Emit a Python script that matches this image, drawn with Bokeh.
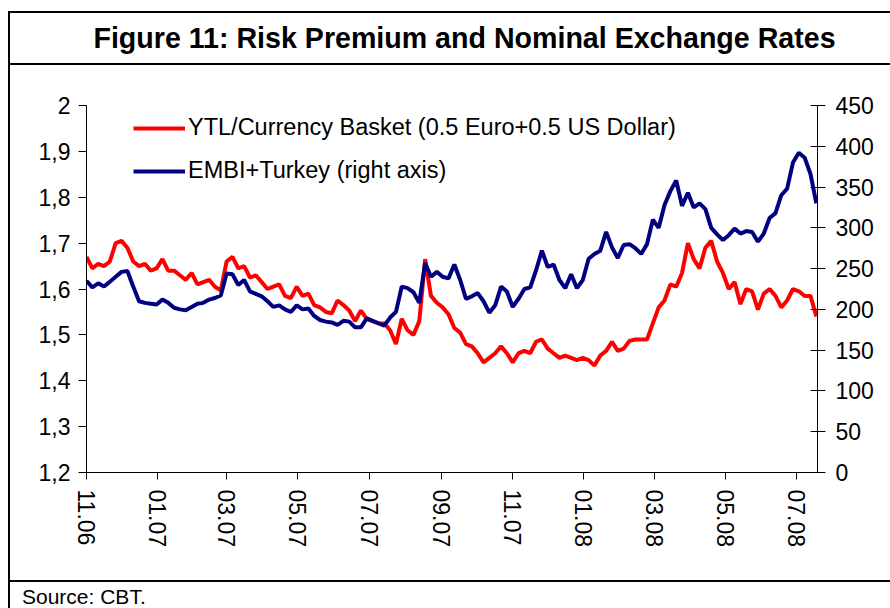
import pandas as pd
from bokeh.plotting import figure
from bokeh.models import (LinearAxis, Range1d, FixedTicker, CustomJSTickFormatter,
                          Legend, LegendItem, Div, ColumnDataSource, Spacer)
from bokeh.layouts import column, row
from bokeh.embed import file_html
from bokeh.resources import INLINE

title_text = "Figure 11: Risk Premium and Nominal Exchange Rates"
source_text = "Source: CBT."
label_ytl = "YTL/Currency Basket (0.5 Euro+0.5 US Dollar)"
label_embi = "EMBI+Turkey (right axis)"

series_start = "2006-11-01"
step_days = 5

ytl_basket = [
    1.67, 1.645, 1.655, 1.65, 1.66, 1.70, 1.705, 1.69, 1.66, 1.65,
    1.655, 1.64, 1.645, 1.665, 1.64, 1.64, 1.63, 1.62, 1.635, 1.61,
    1.615, 1.62, 1.605, 1.597, 1.66, 1.67, 1.645, 1.65, 1.625, 1.63,
    1.615, 1.60, 1.605, 1.61, 1.585, 1.58, 1.605, 1.585, 1.59, 1.565,
    1.56, 1.55, 1.547, 1.575, 1.565, 1.553, 1.53, 1.553, 1.535, 1.53,
    1.525, 1.525, 1.51, 1.48, 1.535, 1.51, 1.50, 1.53, 1.665, 1.585,
    1.57, 1.56, 1.545, 1.515, 1.505, 1.48, 1.475, 1.46, 1.44, 1.45,
    1.46, 1.475, 1.46, 1.44, 1.46, 1.465, 1.46, 1.485, 1.49, 1.47,
    1.46, 1.45, 1.455, 1.45, 1.445, 1.45, 1.445, 1.433, 1.455, 1.465,
    1.485, 1.465, 1.47, 1.487, 1.49, 1.49, 1.49, 1.525, 1.56, 1.575,
    1.61, 1.605, 1.635, 1.70, 1.665, 1.645, 1.69, 1.705, 1.66, 1.635,
    1.60, 1.615, 1.567, 1.60, 1.595, 1.555, 1.59, 1.60, 1.585, 1.56,
    1.575, 1.60, 1.595, 1.585, 1.585, 1.54,
]

embi_turkey = [
    235, 227, 232, 228, 234, 240, 246, 247, 228, 210,
    208, 207, 206, 212, 208, 202, 200, 199, 203, 207,
    208, 212, 214, 217, 244, 243, 230, 236, 222, 219,
    216, 210, 203, 205, 200, 197, 205, 200, 201, 192,
    187, 185, 184, 181, 186, 185, 178, 178, 189, 186,
    183, 180, 190, 197, 228, 226, 221, 208, 257, 240,
    246, 240, 238, 255, 236, 213, 216, 220, 210, 196,
    205, 228, 222, 203, 213, 225, 227, 248, 272, 252,
    255, 236, 226, 243, 226, 236, 262, 268, 272, 295,
    276, 263, 279, 280, 275, 268, 280, 310, 300, 328,
    345, 358, 327, 343, 325, 330, 323, 300, 292, 285,
    291, 299, 293, 296, 295, 283, 293, 312, 318, 340,
    348, 380, 392, 386, 366, 330,
]

x_tick_labels = ["11.06", "01.07", "03.07", "05.07", "07.07", "09.07",
                 "11.07", "01.08", "03.08", "05.08", "07.08"]
left_ticks = [1.2, 1.3, 1.4, 1.5, 1.6, 1.7, 1.8, 1.9, 2.0]
right_ticks = [0, 50, 100, 150, 200, 250, 300, 350, 400, 450]

FONT = "Liberation Sans"
INNER_W = 880

dates = pd.date_range(series_start, periods=len(ytl_basket), freq=f"{step_days}D")
src = ColumnDataSource(dict(date=dates, ytl=ytl_basket, embi=embi_turkey))

def to_ms(ts):
    return ts.value / 1e6

tick_ms = [to_ms(pd.Timestamp(2000 + int(l[3:]), int(l[:2]), 1)) for l in x_tick_labels]
x_start = to_ms(dates[0])
x_end = to_ms(dates[-1] + pd.Timedelta(days=1))

p = figure(width=INNER_W, height=515, x_axis_type="datetime",
           x_range=Range1d(x_start, x_end), y_range=Range1d(left_ticks[0], left_ticks[-1]),
           output_backend="svg", toolbar_location=None, margin=0,
           min_border_left=76, min_border_right=73, min_border_top=40, min_border_bottom=108)
p.extra_y_ranges = {"right": Range1d(right_ticks[0], right_ticks[-1])}
p.grid.visible = False
p.outline_line_color = None
p.background_fill_color = "white"
p.border_fill_color = "white"

r_ytl = p.line("date", "ytl", source=src, line_color="#FF0000", line_width=4)
r_embi = p.line("date", "embi", source=src, line_color="#000080", line_width=4,
                y_range_name="right")

right_axis = LinearAxis(y_range_name="right")
p.add_layout(right_axis, "right")

for ax in [p.xaxis[0], p.yaxis[0], right_axis]:
    ax.major_label_text_font = FONT
    ax.major_label_text_font_size = "23px"
    ax.major_label_text_color = "black"
    ax.axis_line_color = "black"
    ax.axis_line_width = 1
    ax.major_tick_line_color = "black"
    ax.minor_tick_line_color = None

p.xaxis[0].ticker = FixedTicker(ticks=tick_ms)
p.xaxis[0].major_label_overrides = {t: l for t, l in zip(tick_ms, x_tick_labels)}
p.xaxis[0].major_label_orientation = "vertical"
p.xaxis[0].major_tick_in = 0
p.xaxis[0].major_tick_out = 7
p.xaxis[0].major_label_standoff = 10

p.yaxis[0].ticker = FixedTicker(ticks=left_ticks)
p.yaxis[0].formatter = CustomJSTickFormatter(
    code="return (Math.abs(tick - 2) < 1e-9) ? '2' : tick.toFixed(1).replace('.', ',');")
p.yaxis[0].major_tick_in = 0
p.yaxis[0].major_tick_out = 8
p.yaxis[0].major_label_standoff = 8

right_axis.ticker = FixedTicker(ticks=right_ticks)
right_axis.major_tick_in = 7
right_axis.major_tick_out = 8
right_axis.major_label_standoff = 10

legend = Legend(items=[LegendItem(label=label_ytl, renderers=[r_ytl]),
                       LegendItem(label=label_embi, renderers=[r_embi])],
                location=(47, 288))
legend.label_text_font = FONT
legend.label_text_font_size = "23.5px"
legend.label_text_color = "black"
legend.glyph_width = 52
legend.glyph_height = 26
legend.label_height = 26
legend.label_standoff = 3
legend.spacing = 16
legend.padding = 0
legend.margin = 0
legend.border_line_color = None
legend.background_fill_alpha = 0
p.add_layout(legend, "center")


def rule(w, h):
    return Div(text="", width=w, height=h, margin=0,
               styles={"background-color": "#000", "overflow": "hidden"})


title_div = Div(text=title_text, width=INNER_W, height=50, margin=0, styles={
    "box-sizing": "border-box",
    "font-family": FONT,
    "font-weight": "bold",
    "font-size": "28.6px",
    "text-align": "center",
    "line-height": "50px",
    "padding-left": "29px",
    "color": "#000",
    "background-color": "white",
    "white-space": "nowrap",
})

source_div = Div(text=source_text, width=INNER_W, height=26, margin=0, styles={
    "box-sizing": "border-box",
    "font-family": FONT,
    "font-size": "21px",
    "line-height": "21px",
    "padding-top": "4px",
    "padding-left": "12px",
    "color": "#000",
    "background-color": "white",
    "white-space": "nowrap",
})

inner = column(rule(INNER_W, 2), title_div, rule(INNER_W, 2), p, rule(INNER_W, 2),
               source_div, spacing=0, margin=0)
outer = column(Spacer(width=INNER_W + 10, height=11, margin=0),
               row(Spacer(width=8, height=10, margin=0),
                   rule(2, 2 + 50 + 2 + 515 + 2 + 26), inner, spacing=0, margin=0),
               spacing=0, margin=0)

open("out.html", "w").write(file_html(outer, INLINE))
